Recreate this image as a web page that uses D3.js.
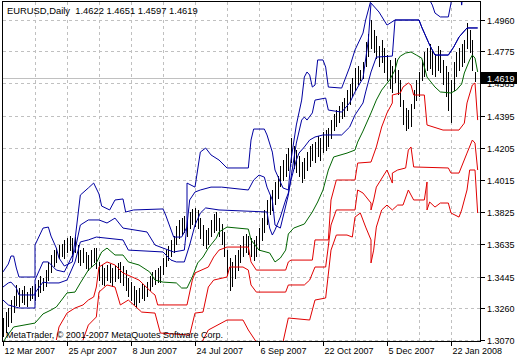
<!DOCTYPE html>
<html><head><meta charset="utf-8">
<script src="https://cdn.jsdelivr.net/npm/d3@7"></script>
<style>
body{margin:0;background:#fff}
svg{display:block}
text{font-family:"Liberation Sans",Arial,sans-serif;font-size:9px}
</style>
</head><body>
<svg id="chart" width="520" height="360"></svg>
<script>
// ---- data ----
const symbolTitle = "EURUSD,Daily";
const lastOHLC = [1.4622, 1.4651, 1.4597, 1.4619];
const copyright = "MetaTrader, \u00a9 2001-2007 MetaQuotes Software Corp.";

const yTickLabels = ["1.4960","1.4775","1.4585","1.4395","1.4205","1.4015","1.3825","1.3635","1.3445","1.3260","1.3070"];
const xTickBars = [0, 24, 48, 72, 96, 120, 144, 168];
const xTickLabels = ["12 Mar 2007","25 Apr 2007","8 Jun 2007","24 Jul 2007","6 Sep 2007","22 Oct 2007","5 Dec 2007","22 Jan 2008"];

const highs = [1.3200,1.3235,1.3259,1.3306,1.3330,1.3395,1.3377,1.3365,1.3389,1.3353,
1.3377,1.3389,1.3401,1.3424,1.3448,1.3436,1.3483,1.3531,1.3572,1.3601,
1.3613,1.3631,1.3637,1.3661,1.3672,1.3684,1.3672,1.3678,1.3631,1.3601,
1.3613,1.3590,1.3572,1.3601,1.3613,1.3613,1.3531,1.3513,1.3495,1.3513,
1.3519,1.3495,1.3507,1.3525,1.3531,1.3507,1.3483,1.3436,1.3412,1.3389,
1.3365,1.3377,1.3401,1.3395,1.3412,1.3448,1.3472,1.3483,1.3495,1.3507,
1.3554,1.3601,1.3625,1.3661,1.3684,1.3743,1.3779,1.3790,1.3802,1.3779,
1.3826,1.3844,1.3850,1.3838,1.3790,1.3749,1.3720,1.3731,1.3779,1.3814,
1.3826,1.3790,1.3755,1.3708,1.3601,1.3554,1.3531,1.3572,1.3601,1.3631,
1.3684,1.3696,1.3684,1.3672,1.3661,1.3684,1.3731,1.3790,1.3838,1.3897,
1.3926,1.3956,1.4003,1.4039,1.4098,1.4133,1.4168,1.4204,1.4263,1.4216,
1.4192,1.4157,1.4121,1.4145,1.4180,1.4216,1.4228,1.4239,1.4275,1.4263,
1.4298,1.4310,1.4322,1.4369,1.4405,1.4428,1.4452,1.4476,1.4499,1.4546,
1.4582,1.4617,1.4676,1.4688,1.4665,1.4712,1.4830,1.4877,1.4960,1.4901,
1.4865,1.4806,1.4842,1.4795,1.4753,1.4724,1.4688,1.4735,1.4665,1.4606,
1.4487,1.4440,1.4428,1.4464,1.4546,1.4606,1.4653,1.4724,1.4771,1.4795,
1.4818,1.4783,1.4759,1.4806,1.4783,1.4724,1.4688,1.4653,1.4606,1.4712,
1.4771,1.4795,1.4818,1.4842,1.4942,1.4901,1.4842,1.4651];
const lows = [1.3094,1.3117,1.3153,1.3176,1.3235,1.3277,1.3271,1.3294,1.3283,1.3271,
1.3306,1.3318,1.3306,1.3330,1.3353,1.3365,1.3389,1.3424,1.3472,1.3507,
1.3531,1.3554,1.3566,1.3554,1.3590,1.3601,1.3566,1.3590,1.3531,1.3513,
1.3531,1.3495,1.3483,1.3507,1.3531,1.3495,1.3424,1.3401,1.3395,1.3424,
1.3412,1.3389,1.3418,1.3436,1.3412,1.3395,1.3365,1.3330,1.3306,1.3283,
1.3265,1.3294,1.3318,1.3306,1.3330,1.3365,1.3389,1.3401,1.3412,1.3412,
1.3460,1.3507,1.3542,1.3566,1.3590,1.3637,1.3672,1.3696,1.3708,1.3684,
1.3731,1.3755,1.3743,1.3731,1.3672,1.3631,1.3613,1.3637,1.3684,1.3708,
1.3720,1.3684,1.3637,1.3566,1.3454,1.3365,1.3389,1.3436,1.3483,1.3531,
1.3566,1.3590,1.3578,1.3566,1.3542,1.3566,1.3601,1.3661,1.3708,1.3755,
1.3814,1.3838,1.3873,1.3909,1.3979,1.4015,1.4039,1.4074,1.4121,1.4086,
1.4062,1.4039,1.4003,1.4027,1.4074,1.4098,1.4133,1.4121,1.4157,1.4133,
1.4180,1.4192,1.4216,1.4263,1.4310,1.4334,1.4357,1.4381,1.4393,1.4428,
1.4464,1.4511,1.4546,1.4582,1.4606,1.4617,1.4688,1.4747,1.4795,1.4771,
1.4735,1.4688,1.4712,1.4653,1.4606,1.4558,1.4535,1.4594,1.4523,1.4452,
1.4346,1.4310,1.4322,1.4334,1.4440,1.4487,1.4511,1.4606,1.4629,1.4665,
1.4676,1.4641,1.4629,1.4665,1.4653,1.4582,1.4511,1.4428,1.4357,1.4546,
1.4629,1.4665,1.4688,1.4712,1.4795,1.4771,1.4665,1.4597];

// bands: [bar index, price]
const upperOuter = [[0,1.3472],[2,1.3519],[3,1.3566],[4,1.3566],[5,1.3495],[6,1.3442],[12,1.3442],[12,1.3631],[15,1.3731],[17,1.3737],[18,1.3684],[20,1.3613],[21,1.3554],[23,1.3507],[26,1.3531],[27,1.3661],[29,1.3926],[32,1.3968],[34,1.3997],[36,1.3932],[37,1.3861],[40,1.3838],[42,1.3897],[45,1.3903],[46,1.3826],[49,1.3838],[60,1.3844],[61,1.3808],[64,1.3678],[67,1.3678],[69,1.3737],[69,1.3997],[72,1.3973],[74,1.4180],[76,1.4204],[78,1.4163],[81,1.4133],[84,1.4086],[92,1.4086],[93,1.4251],[94,1.4316],[98,1.4316],[99,1.4281],[101,1.4180],[102,1.4074],[105,1.3968],[107,1.3956],[108,1.4133],[110,1.4340],[112,1.4487],[113,1.4623],[114,1.4653],[115,1.4635],[116,1.4564],[117,1.4576],[118,1.4724],[120,1.4724],[121,1.4682],[122,1.4564],[127,1.4558],[130,1.4682],[132,1.4783],[135,1.4883],[136,1.4960],[138,1.5078],[140,1.5196],[158,1.5196],[160,1.5078],[161,1.5048],[162,1.5001],[164,1.4978],[167,1.4978],[168,1.5060],[169,1.5196],[171,1.5196],[172,1.5048],[173,1.5196],[178,1.5196]];
const upperMid = [[0,1.3383],[2,1.3407],[3,1.3412],[5,1.3377],[6,1.3336],[12,1.3336],[12,1.3424],[15,1.3531],[17,1.3531],[20,1.3483],[23,1.3472],[27,1.3601],[29,1.3749],[32,1.3779],[36,1.3779],[39,1.3761],[42,1.3790],[45,1.3731],[54,1.3708],[57,1.3631],[60,1.3613],[64,1.3590],[68,1.3601],[70,1.3897],[72,1.3944],[74,1.3956],[78,1.3973],[82,1.3973],[92,1.3956],[94,1.4015],[96,1.4044],[98,1.4032],[99,1.3973],[101,1.3897],[102,1.3749],[104,1.3731],[107,1.3926],[110,1.4233],[112,1.4369],[113,1.4387],[114,1.4369],[116,1.4411],[117,1.4487],[121,1.4499],[122,1.4428],[127,1.4416],[130,1.4470],[132,1.4535],[135,1.4617],[137,1.4842],[138,1.5060],[141,1.5007],[144,1.4930],[147,1.4960],[156,1.4960],[157,1.4919],[160,1.4812],[162,1.4753],[167,1.4753],[169,1.4800],[171,1.4859],[174,1.4913],[178,1.4913]];
const upperInner = [[0,1.3306],[2,1.3277],[6,1.3259],[12,1.3259],[12,1.3348],[15,1.3412],[17,1.3407],[21,1.3407],[24,1.3424],[27,1.3531],[29,1.3649],[32,1.3661],[35,1.3678],[45,1.3661],[47,1.3601],[60,1.3590],[63,1.3542],[65,1.3531],[68,1.3531],[70,1.3631],[72,1.3749],[74,1.3820],[76,1.3850],[81,1.3838],[99,1.3826],[100,1.3731],[101,1.3690],[102,1.3720],[104,1.3796],[106,1.3897],[107,1.3938],[108,1.4015],[110,1.4133],[111,1.4174],[113,1.4210],[115,1.4251],[117,1.4269],[120,1.4281],[127,1.4281],[130,1.4328],[132,1.4399],[135,1.4470],[136,1.4535],[138,1.4653],[140,1.4741],[146,1.4747],[147,1.4960],[156,1.4960],[157,1.4919],[160,1.4812],[162,1.4753],[167,1.4753],[169,1.4800],[171,1.4859],[174,1.4913],[178,1.4913]];
const middle = [[0,1.3052],[1,1.3082],[4,1.3147],[12,1.3170],[15,1.3224],[18,1.3247],[20,1.3265],[24,1.3348],[27,1.3353],[29,1.3407],[32,1.3483],[35,1.3525],[37,1.3590],[39,1.3613],[42,1.3572],[45,1.3572],[47,1.3531],[51,1.3513],[55,1.3472],[57,1.3424],[60,1.3412],[65,1.3407],[67,1.3377],[69,1.3377],[71,1.3442],[73,1.3525],[75,1.3560],[77,1.3613],[80,1.3672],[81,1.3708],[84,1.3737],[92,1.3725],[93,1.3661],[96,1.3601],[100,1.3584],[102,1.3531],[104,1.3554],[106,1.3601],[107,1.3696],[109,1.3731],[113,1.3755],[116,1.3826],[118,1.3885],[120,1.3956],[122,1.4074],[124,1.4151],[129,1.4174],[132,1.4192],[133,1.4239],[135,1.4304],[138,1.4411],[140,1.4487],[142,1.4546],[145,1.4606],[147,1.4665],[148,1.4724],[149,1.4747],[151,1.4765],[153,1.4771],[155,1.4753],[157,1.4735],[158,1.4682],[159,1.4623],[162,1.4564],[164,1.4535],[168,1.4529],[170,1.4546],[172,1.4582],[173,1.4647],[175,1.4724],[176,1.4753],[177,1.4735],[178,1.4653]];
const lowerInner = [[20,1.3070],[21,1.3147],[24,1.3229],[27,1.3259],[30,1.3277],[32,1.3306],[34,1.3324],[35,1.3383],[36,1.3501],[39,1.3531],[42,1.3513],[45,1.3466],[51,1.3424],[56,1.3348],[57,1.3336],[58,1.3277],[69,1.3277],[71,1.3424],[72,1.3466],[77,1.3501],[79,1.3560],[81,1.3601],[84,1.3619],[92,1.3619],[93,1.3531],[95,1.3483],[106,1.3483],[107,1.3531],[108,1.3542],[116,1.3542],[117,1.3661],[122,1.3661],[123,1.3897],[125,1.4015],[132,1.4015],[133,1.4115],[138,1.4121],[140,1.4210],[142,1.4328],[144,1.4411],[146,1.4470],[146,1.4517],[149,1.4529],[150,1.4564],[152,1.4588],[153,1.4576],[154,1.4517],[158,1.4517],[159,1.4340],[165,1.4310],[171,1.4310],[173,1.4351],[174,1.4470],[176,1.4576],[177,1.4588],[178,1.4369]];
const lowerMid = [[30,1.3070],[32,1.3158],[35,1.3206],[36,1.3353],[39,1.3395],[42,1.3383],[44,1.3277],[47,1.3306],[52,1.3235],[57,1.3229],[59,1.3111],[70,1.3099],[72,1.3229],[75,1.3235],[77,1.3383],[79,1.3424],[84,1.3442],[85,1.3501],[90,1.3501],[92,1.3483],[93,1.3395],[95,1.3353],[106,1.3353],[107,1.3395],[113,1.3395],[115,1.3424],[117,1.3501],[121,1.3501],[123,1.3749],[125,1.3838],[132,1.3838],[133,1.3956],[135,1.3938],[138,1.3879],[138,1.3838],[139,1.3897],[140,1.3973],[144,1.4074],[146,1.3997],[146,1.4056],[148,1.4074],[151,1.4086],[152,1.4192],[153,1.4210],[154,1.4092],[167,1.4086],[168,1.4056],[171,1.4056],[174,1.4174],[176,1.4251],[177,1.4233],[178,1.4074]];
const lowerOuter = [[44,1.3040],[74,1.3040],[77,1.3129],[84,1.3188],[90,1.3188],[92,1.3129],[95,1.3058],[105,1.3058],[107,1.3200],[115,1.3188],[117,1.3306],[121,1.3318],[123,1.3601],[125,1.3690],[129,1.3690],[131,1.3678],[132,1.3796],[134,1.3820],[136,1.3737],[138,1.3661],[138,1.3525],[139,1.3601],[140,1.3737],[142,1.3838],[144,1.3867],[146,1.3838],[148,1.3867],[150,1.3867],[152,1.3956],[154,1.3897],[158,1.3897],[159,1.4003],[159,1.3838],[160,1.3885],[162,1.3855],[164,1.3879],[167,1.3879],[168,1.3820],[171,1.3796],[172,1.3838],[174,1.3956],[175,1.4074],[177,1.4074],[178,1.3820]];

// ---- drawing ----
const svg = d3.select("#chart");
const W = 520, H = 360;
const plot = {left: 2.5, top: 1.5, right: 480.5, bottom: 341.5};
const x = d3.scaleLinear().domain([0, 177]).range([3, 475]);
const y = d3.scaleLinear().domain([1.3070, 1.4960]).range([340, 20]);
const px = v => Math.round(x(v)) + 0.5;
const py = v => Math.round(y(v)) + 0.5;

svg.append("rect").attr("width", W).attr("height", H).attr("fill", "#fff");

const defs = svg.append("defs");
defs.append("clipPath").attr("id", "clip").append("rect")
  .attr("x", plot.left).attr("y", plot.top)
  .attr("width", plot.right - plot.left).attr("height", plot.bottom - plot.top);

// grid
const grid = svg.append("g").attr("stroke", "#c0c0c0").attr("stroke-dasharray", "3,3").attr("shape-rendering", "crispEdges");
yTickLabels.forEach(t => {
  grid.append("line").attr("x1", plot.left).attr("x2", plot.right).attr("y1", py(+t)).attr("y2", py(+t));
});
const gridBars = d3.range(12, 178, 12);
gridBars.forEach(b => {
  grid.append("line").attr("x1", px(b)).attr("x2", px(b)).attr("y1", plot.top).attr("y2", plot.bottom);
});

const g = svg.append("g").attr("clip-path", "url(#clip)");

// current price line
g.append("line").attr("x1", plot.left).attr("x2", plot.right)
  .attr("y1", py(lastOHLC[3])).attr("y2", py(lastOHLC[3]))
  .attr("stroke", "#c0c0c0").attr("shape-rendering", "crispEdges");

// bars
const bars = highs.map((h, i) => ({i, h, l: lows[i]}));
g.append("g").selectAll("line").data(bars).join("line")
  .attr("x1", d => px(d.i)).attr("x2", d => px(d.i))
  .attr("y1", d => Math.round(y(d.h))).attr("y2", d => Math.round(y(d.l)) + 1)
  .attr("stroke", "#000").attr("stroke-width", 1).attr("shape-rendering", "crispEdges");

// bands
const line = d3.line().x(d => x(d[0])).y(d => y(d[1]));
const bandDefs = [
  [upperOuter, "#0000a0"], [upperMid, "#0000a0"], [upperInner, "#0000a0"],
  [middle, "#006400"],
  [lowerInner, "#e00000"], [lowerMid, "#e00000"], [lowerOuter, "#e00000"]
];
bandDefs.forEach(([data, col]) => {
  g.append("path").datum(data).attr("d", line).attr("fill", "none")
    .attr("stroke", col).attr("stroke-width", 1);
});

// frame
svg.append("rect").attr("x", plot.left).attr("y", plot.top)
  .attr("width", plot.right - plot.left).attr("height", plot.bottom - plot.top)
  .attr("fill", "none").attr("stroke", "#000").attr("shape-rendering", "crispEdges");

// y axis ticks and labels
yTickLabels.forEach(t => {
  const yy = py(+t);
  svg.append("line").attr("x1", plot.right).attr("x2", plot.right + 4).attr("y1", yy).attr("y2", yy)
    .attr("stroke", "#000").attr("shape-rendering", "crispEdges");
  svg.append("text").attr("x", 487).attr("y", yy + 3.5).attr("fill", "#000").text(t);
});

// x axis ticks and labels
xTickBars.forEach((b, k) => {
  const xx = px(b);
  svg.append("line").attr("x1", xx).attr("x2", xx).attr("y1", plot.bottom).attr("y2", plot.bottom + 4)
    .attr("stroke", "#000").attr("shape-rendering", "crispEdges");
  svg.append("text").attr("x", xx + 1).attr("y", 354).attr("fill", "#000").text(xTickLabels[k]);
});

// current price box (covers the hidden 1.4585 label as in MetaTrader)
const cy = py(lastOHLC[3]);
svg.append("rect").attr("x", 481).attr("y", cy - 6.5).attr("width", 36).attr("height", 12).attr("fill", "#000");
svg.append("text").attr("x", 487).attr("y", cy + 3.5).attr("fill", "#fff").text(lastOHLC[3].toFixed(4));

// title
svg.append("text").attr("x", 7).attr("y", 14).attr("fill", "#000").style("font-size", "9.4px")
  .text(symbolTitle + "\u00a0\u00a0" + lastOHLC.map(v => v.toFixed(4)).join(" "));

// copyright
svg.append("text").attr("x", 6).attr("y", 338).attr("fill", "#000").text(copyright);
</script>
</body></html>
